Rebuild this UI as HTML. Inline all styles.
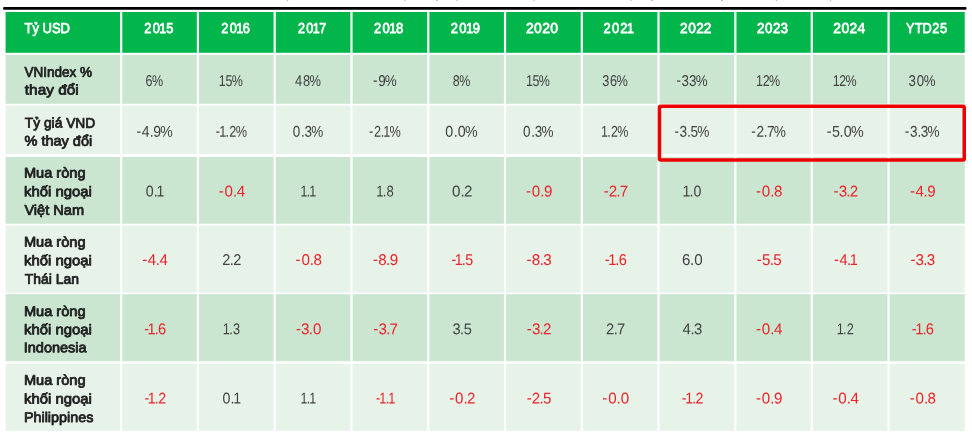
<!DOCTYPE html>
<html lang="vi">
<head>
<meta charset="utf-8">
<title>Bảng</title>
<style>
html,body{margin:0;padding:0;background:#fff;}
body{width:972px;height:435px;overflow:hidden;}
svg{display:block;}
text{font-family:"Liberation Sans",sans-serif;text-rendering:geometricPrecision;}
.h{fill:#fff;stroke:#fff;stroke-width:0.75px;stroke-linejoin:round;font-size:14.4px;}
.l{fill:#1f1f1f;stroke:#1f1f1f;stroke-width:0.8px;stroke-linejoin:round;font-size:14.0px;}
.d{fill:#424242;font-size:15.6px;}
.r{fill:#ec2227;font-size:15.6px;}
</style>
</head>
<body>
<svg width="972" height="435" viewBox="0 0 972 435">
<defs><filter id="soft" filterUnits="userSpaceOnUse" x="0" y="0" width="972" height="435" color-interpolation-filters="sRGB"><feGaussianBlur stdDeviation="0.28"/></filter></defs>
<g filter="url(#soft)">
<rect x="-5" y="-5" width="982" height="445" fill="#fff"/>
<rect x="3.1" y="7.1" width="963.4" height="2.6" rx="1" fill="#000"/>
<rect x="286.9" y="-0.5" width="1.2" height="1.4" fill="#b0b0b0"/>
<rect x="404.2" y="-0.5" width="1.2" height="1.4" fill="#b0b0b0"/>
<rect x="436.4" y="-0.5" width="1.2" height="1.4" fill="#8a8a8a"/>
<rect x="456.2" y="-0.5" width="1.2" height="1.4" fill="#b8b8b8"/>
<rect x="533.2" y="-0.5" width="1.2" height="1.4" fill="#b0b0b0"/>
<rect x="630.3" y="-0.5" width="1.2" height="1.4" fill="#b0b0b0"/>
<rect x="651.5" y="-0.5" width="1.2" height="1.4" fill="#8a8a8a"/>
<rect x="721.3" y="-0.5" width="1.2" height="1.4" fill="#8a8a8a"/>
<rect x="775.8" y="-0.5" width="1.2" height="1.4" fill="#b0b0b0"/>
<rect x="829.9" y="-0.5" width="1.2" height="1.4" fill="#b0b0b0"/>
<rect x="5.6" y="12.0" width="114.48" height="40.80" fill="#02b64c"/>
<rect x="122.28" y="12.0" width="74.55" height="40.80" fill="#02b64c"/>
<rect x="199.03" y="12.0" width="74.56" height="40.80" fill="#02b64c"/>
<rect x="275.79" y="12.0" width="74.58" height="40.80" fill="#02b64c"/>
<rect x="352.57" y="12.0" width="74.62" height="40.80" fill="#02b64c"/>
<rect x="429.39" y="12.0" width="74.56" height="40.80" fill="#02b64c"/>
<rect x="506.15" y="12.0" width="74.56" height="40.80" fill="#02b64c"/>
<rect x="582.91" y="12.0" width="74.50" height="40.80" fill="#02b64c"/>
<rect x="659.61" y="12.0" width="74.64" height="40.80" fill="#02b64c"/>
<rect x="736.45" y="12.0" width="74.21" height="40.80" fill="#02b64c"/>
<rect x="812.86" y="12.0" width="74.62" height="40.80" fill="#02b64c"/>
<rect x="889.68" y="12.0" width="75.02" height="40.80" fill="#02b64c"/>
<rect x="5.6" y="54.9" width="114.48" height="48.90" fill="#cae6d1"/>
<rect x="122.28" y="54.9" width="74.55" height="48.90" fill="#cae6d1"/>
<rect x="199.03" y="54.9" width="74.56" height="48.90" fill="#cae6d1"/>
<rect x="275.79" y="54.9" width="74.58" height="48.90" fill="#cae6d1"/>
<rect x="352.57" y="54.9" width="74.62" height="48.90" fill="#cae6d1"/>
<rect x="429.39" y="54.9" width="74.56" height="48.90" fill="#cae6d1"/>
<rect x="506.15" y="54.9" width="74.56" height="48.90" fill="#cae6d1"/>
<rect x="582.91" y="54.9" width="74.50" height="48.90" fill="#cae6d1"/>
<rect x="659.61" y="54.9" width="74.64" height="48.90" fill="#cae6d1"/>
<rect x="736.45" y="54.9" width="74.21" height="48.90" fill="#cae6d1"/>
<rect x="812.86" y="54.9" width="74.62" height="48.90" fill="#cae6d1"/>
<rect x="889.68" y="54.9" width="75.02" height="48.90" fill="#cae6d1"/>
<rect x="5.6" y="105.5" width="114.48" height="48.45" fill="#e7f2e9"/>
<rect x="122.28" y="105.5" width="74.55" height="48.45" fill="#e7f2e9"/>
<rect x="199.03" y="105.5" width="74.56" height="48.45" fill="#e7f2e9"/>
<rect x="275.79" y="105.5" width="74.58" height="48.45" fill="#e7f2e9"/>
<rect x="352.57" y="105.5" width="74.62" height="48.45" fill="#e7f2e9"/>
<rect x="429.39" y="105.5" width="74.56" height="48.45" fill="#e7f2e9"/>
<rect x="506.15" y="105.5" width="74.56" height="48.45" fill="#e7f2e9"/>
<rect x="582.91" y="105.5" width="74.50" height="48.45" fill="#e7f2e9"/>
<rect x="659.61" y="105.5" width="74.64" height="48.45" fill="#e7f2e9"/>
<rect x="736.45" y="105.5" width="74.21" height="48.45" fill="#e7f2e9"/>
<rect x="812.86" y="105.5" width="74.62" height="48.45" fill="#e7f2e9"/>
<rect x="889.68" y="105.5" width="75.02" height="48.45" fill="#e7f2e9"/>
<rect x="5.6" y="156.9" width="114.48" height="66.85" fill="#cae6d1"/>
<rect x="122.28" y="156.9" width="74.55" height="66.85" fill="#cae6d1"/>
<rect x="199.03" y="156.9" width="74.56" height="66.85" fill="#cae6d1"/>
<rect x="275.79" y="156.9" width="74.58" height="66.85" fill="#cae6d1"/>
<rect x="352.57" y="156.9" width="74.62" height="66.85" fill="#cae6d1"/>
<rect x="429.39" y="156.9" width="74.56" height="66.85" fill="#cae6d1"/>
<rect x="506.15" y="156.9" width="74.56" height="66.85" fill="#cae6d1"/>
<rect x="582.91" y="156.9" width="74.50" height="66.85" fill="#cae6d1"/>
<rect x="659.61" y="156.9" width="74.64" height="66.85" fill="#cae6d1"/>
<rect x="736.45" y="156.9" width="74.21" height="66.85" fill="#cae6d1"/>
<rect x="812.86" y="156.9" width="74.62" height="66.85" fill="#cae6d1"/>
<rect x="889.68" y="156.9" width="75.02" height="66.85" fill="#cae6d1"/>
<rect x="5.6" y="225.5" width="114.48" height="67.10" fill="#e7f2e9"/>
<rect x="122.28" y="225.5" width="74.55" height="67.10" fill="#e7f2e9"/>
<rect x="199.03" y="225.5" width="74.56" height="67.10" fill="#e7f2e9"/>
<rect x="275.79" y="225.5" width="74.58" height="67.10" fill="#e7f2e9"/>
<rect x="352.57" y="225.5" width="74.62" height="67.10" fill="#e7f2e9"/>
<rect x="429.39" y="225.5" width="74.56" height="67.10" fill="#e7f2e9"/>
<rect x="506.15" y="225.5" width="74.56" height="67.10" fill="#e7f2e9"/>
<rect x="582.91" y="225.5" width="74.50" height="67.10" fill="#e7f2e9"/>
<rect x="659.61" y="225.5" width="74.64" height="67.10" fill="#e7f2e9"/>
<rect x="736.45" y="225.5" width="74.21" height="67.10" fill="#e7f2e9"/>
<rect x="812.86" y="225.5" width="74.62" height="67.10" fill="#e7f2e9"/>
<rect x="889.68" y="225.5" width="75.02" height="67.10" fill="#e7f2e9"/>
<rect x="5.6" y="294.15" width="114.48" height="67.05" fill="#cae6d1"/>
<rect x="122.28" y="294.15" width="74.55" height="67.05" fill="#cae6d1"/>
<rect x="199.03" y="294.15" width="74.56" height="67.05" fill="#cae6d1"/>
<rect x="275.79" y="294.15" width="74.58" height="67.05" fill="#cae6d1"/>
<rect x="352.57" y="294.15" width="74.62" height="67.05" fill="#cae6d1"/>
<rect x="429.39" y="294.15" width="74.56" height="67.05" fill="#cae6d1"/>
<rect x="506.15" y="294.15" width="74.56" height="67.05" fill="#cae6d1"/>
<rect x="582.91" y="294.15" width="74.50" height="67.05" fill="#cae6d1"/>
<rect x="659.61" y="294.15" width="74.64" height="67.05" fill="#cae6d1"/>
<rect x="736.45" y="294.15" width="74.21" height="67.05" fill="#cae6d1"/>
<rect x="812.86" y="294.15" width="74.62" height="67.05" fill="#cae6d1"/>
<rect x="889.68" y="294.15" width="75.02" height="67.05" fill="#cae6d1"/>
<rect x="5.6" y="364.0" width="114.48" height="66.80" fill="#e7f2e9"/>
<rect x="122.28" y="364.0" width="74.55" height="66.80" fill="#e7f2e9"/>
<rect x="199.03" y="364.0" width="74.56" height="66.80" fill="#e7f2e9"/>
<rect x="275.79" y="364.0" width="74.58" height="66.80" fill="#e7f2e9"/>
<rect x="352.57" y="364.0" width="74.62" height="66.80" fill="#e7f2e9"/>
<rect x="429.39" y="364.0" width="74.56" height="66.80" fill="#e7f2e9"/>
<rect x="506.15" y="364.0" width="74.56" height="66.80" fill="#e7f2e9"/>
<rect x="582.91" y="364.0" width="74.50" height="66.80" fill="#e7f2e9"/>
<rect x="659.61" y="364.0" width="74.64" height="66.80" fill="#e7f2e9"/>
<rect x="736.45" y="364.0" width="74.21" height="66.80" fill="#e7f2e9"/>
<rect x="812.86" y="364.0" width="74.62" height="66.80" fill="#e7f2e9"/>
<rect x="889.68" y="364.0" width="75.02" height="66.80" fill="#e7f2e9"/>
<text class="h" x="24.48" y="33.05" textLength="45.56" lengthAdjust="spacingAndGlyphs" transform="rotate(0.05 24.5 33.0)">Tỷ USD</text>
<text class="h" transform="translate(144.40 33.05) rotate(0.05) scale(0.892 1)" x="-0.20 9.41 16.70 24.38" y="0">2015</text>
<text class="h" transform="translate(221.40 33.05) rotate(0.05) scale(0.888 1)" x="-0.16 9.35 16.65 24.18" y="0">2016</text>
<text class="h" transform="translate(298.20 33.05) rotate(0.05) scale(0.872 1)" x="-0.21 9.33 16.64 24.17" y="0">2017</text>
<text class="h" transform="translate(374.20 33.05) rotate(0.05) scale(0.905 1)" x="-0.15 9.30 16.58 24.19" y="0">2018</text>
<text class="h" transform="translate(450.90 33.05) rotate(0.05) scale(0.902 1)" x="-0.16 9.33 16.61 24.18" y="0">2019</text>
<text class="h" transform="translate(526.20 33.05) rotate(0.05) scale(0.970 1)" x="-0.27 8.16 16.46 24.89" y="0">2020</text>
<text class="h" transform="translate(604.40 33.05) rotate(0.05) scale(0.896 1)" x="-0.90 8.59 17.79 24.93" y="0">2021</text>
<text class="h" transform="translate(680.50 33.05) rotate(0.05) scale(0.952 1)" x="-0.42 8.09 16.48 24.33" y="0">2022</text>
<text class="h" transform="translate(757.50 33.05) rotate(0.05) scale(0.933 1)" x="-0.46 8.17 16.67 24.63" y="0">2023</text>
<text class="h" transform="translate(833.60 33.05) rotate(0.05) scale(0.965 1)" x="-0.43 8.07 16.44 24.68" y="0">2024</text>
<text class="h" transform="translate(905.90 33.05) rotate(0.05) scale(0.887 1)" x="-0.01 9.92 18.77 29.83 38.53" y="0">YTD25</text>
<text class="l" x="24.43" y="76.80" textLength="67.57" lengthAdjust="spacingAndGlyphs" transform="rotate(0.05 24.4 76.8)">VNIndex %</text>
<text class="l" x="24.87" y="94.50" textLength="53.77" lengthAdjust="spacingAndGlyphs" transform="rotate(0.05 24.9 94.5)">thay đổi</text>
<text class="d" transform="translate(146.21 85.90) rotate(0.05) scale(0.800 1)" x="-0.90 7.30" y="0">6%</text>
<text class="d" transform="translate(220.41 85.90) rotate(0.05) scale(0.800 1)" x="-2.06 6.23 14.18" y="0">15%</text>
<text class="d" transform="translate(295.43 85.90) rotate(0.05) scale(0.826 1)" x="-0.68 9.13 17.01" y="0">48%</text>
<text class="d" transform="translate(373.68 85.90) rotate(0.05) scale(0.863 1)" x="-0.77 5.16 12.95" y="-0.55 0.00 0.00">-9%</text>
<text class="d" transform="translate(453.37 85.90) rotate(0.05) scale(0.800 1)" x="-0.86 7.24" y="0">8%</text>
<text class="d" transform="translate(527.53 85.90) rotate(0.05) scale(0.800 1)" x="-2.06 6.23 14.18" y="0">15%</text>
<text class="d" transform="translate(602.96 85.90) rotate(0.05) scale(0.815 1)" x="-0.97 8.62 16.62" y="0">36%</text>
<text class="d" transform="translate(677.08 85.90) rotate(0.05) scale(0.855 1)" x="-0.78 5.21 13.88 21.72" y="-0.55 0.00 0.00 0.00">-33%</text>
<text class="d" transform="translate(757.75 85.90) rotate(0.05) scale(0.800 1)" x="-2.07 6.14 13.93" y="0">12%</text>
<text class="d" transform="translate(834.37 85.90) rotate(0.05) scale(0.800 1)" x="-2.07 6.14 13.93" y="0">12%</text>
<text class="d" transform="translate(909.44 85.90) rotate(0.05) scale(0.847 1)" x="-1.15 8.78 16.98" y="0">30%</text>
<text class="l" x="24.79" y="127.60" textLength="70.46" lengthAdjust="spacingAndGlyphs" transform="rotate(0.05 24.8 127.6)">Tỷ giá VND</text>
<text class="l" x="24.59" y="145.60" textLength="67.58" lengthAdjust="spacingAndGlyphs" transform="rotate(0.05 24.6 145.6)">% thay đổi</text>
<text class="d" transform="translate(137.46 136.70) rotate(0.05) scale(0.900 1)" x="-1.08 4.90 13.63 17.50 25.28" y="-0.55 0.00 0.00 0.00 0.00">-4.9%</text>
<text class="d" transform="translate(216.11 136.70) rotate(0.05) scale(0.813 1)" x="-0.39 3.85 11.68 16.24 24.03" y="-0.55 0.00 0.00 0.00 0.00">-1.2%</text>
<text class="d" transform="translate(293.58 136.70) rotate(0.05) scale(0.863 1)" x="-1.00 8.52 12.52 20.36" y="0">0.3%</text>
<text class="d" transform="translate(369.68 136.70) rotate(0.05) scale(0.813 1)" x="-0.87 5.38 13.66 16.73 24.52" y="-0.55 0.00 0.00 0.00 0.00">-2.1%</text>
<text class="d" transform="translate(446.42 136.70) rotate(0.05) scale(0.912 1)" x="-1.19 7.93 12.50 20.40" y="0">0.0%</text>
<text class="d" transform="translate(523.93 136.70) rotate(0.05) scale(0.863 1)" x="-1.00 8.52 12.52 20.36" y="0">0.3%</text>
<text class="d" transform="translate(602.61 136.70) rotate(0.05) scale(0.800 1)" x="-2.09 5.76 10.54 18.33" y="0">1.2%</text>
<text class="d" transform="translate(675.28 136.70) rotate(0.05) scale(0.872 1)" x="-0.91 4.98 13.52 17.47 25.33" y="-0.55 0.00 0.00 0.00 0.00">-3.5%</text>
<text class="d" transform="translate(752.15 136.70) rotate(0.05) scale(0.874 1)" x="-0.95 4.87 13.33 16.94 24.70" y="-0.55 0.00 0.00 0.00 0.00">-2.7%</text>
<text class="d" transform="translate(827.77 136.70) rotate(0.05) scale(0.915 1)" x="-1.08 4.56 12.88 17.41 25.31" y="-0.55 0.00 0.00 0.00 0.00">-5.0%</text>
<text class="d" transform="translate(905.59 136.70) rotate(0.05) scale(0.869 1)" x="-0.90 5.01 13.57 17.50 25.34" y="-0.55 0.00 0.00 0.00 0.00">-3.3%</text>
<text class="l" x="23.90" y="177.40" textLength="61.65" lengthAdjust="spacingAndGlyphs" transform="rotate(0.05 23.9 177.4)">Mua ròng</text>
<text class="l" x="24.10" y="196.30" textLength="67.79" lengthAdjust="spacingAndGlyphs" transform="rotate(0.05 24.1 196.3)">khối ngoại</text>
<text class="l" x="24.43" y="214.70" textLength="59.61" lengthAdjust="spacingAndGlyphs" transform="rotate(0.05 24.4 214.7)">Việt Nam</text>
<text class="d" transform="translate(146.61 196.60) rotate(0.05) scale(0.907 1)" x="-0.87 7.95 10.88" y="0">0.1</text>
<text class="r" transform="translate(218.86 196.60) rotate(0.05) scale(0.970 1)" x="-0.23 5.81 14.52 18.43" y="-0.55 0.00 0.00 0.00">-0.4</text>
<text class="d" transform="translate(302.03 196.60) rotate(0.05) scale(0.800 1)" x="-2.02 5.83 8.92" y="0">1.1</text>
<text class="d" transform="translate(377.33 196.60) rotate(0.05) scale(0.838 1)" x="-1.40 6.39 10.94" y="0">1.8</text>
<text class="d" transform="translate(452.42 196.60) rotate(0.05) scale(0.970 1)" x="-0.46 8.25 11.85" y="0">0.2</text>
<text class="r" transform="translate(526.08 196.60) rotate(0.05) scale(0.970 1)" x="-0.20 5.85 14.55 18.37" y="-0.55 0.00 0.00 0.00">-0.9</text>
<text class="r" transform="translate(603.96 196.60) rotate(0.05) scale(0.970 1)" x="-0.30 4.96 12.80 16.23" y="-0.55 0.00 0.00 0.00">-2.7</text>
<text class="d" transform="translate(683.78 196.60) rotate(0.05) scale(0.907 1)" x="-1.44 6.25 10.81" y="0">1.0</text>
<text class="r" transform="translate(756.25 196.60) rotate(0.05) scale(0.970 1)" x="-0.26 5.79 14.49 18.25" y="-0.55 0.00 0.00 0.00">-0.8</text>
<text class="r" transform="translate(833.82 196.60) rotate(0.05) scale(0.970 1)" x="-0.33 4.98 12.87 16.47" y="-0.55 0.00 0.00 0.00">-3.2</text>
<text class="r" transform="translate(910.29 196.60) rotate(0.05) scale(0.970 1)" x="-0.20 5.37 13.62 17.44" y="-0.55 0.00 0.00 0.00">-4.9</text>
<text class="l" x="23.90" y="246.60" textLength="61.65" lengthAdjust="spacingAndGlyphs" transform="rotate(0.05 23.9 246.6)">Mua ròng</text>
<text class="l" x="24.10" y="265.20" textLength="67.79" lengthAdjust="spacingAndGlyphs" transform="rotate(0.05 24.1 265.2)">khối ngoại</text>
<text class="l" x="24.79" y="283.80" textLength="54.14" lengthAdjust="spacingAndGlyphs" transform="rotate(0.05 24.8 283.8)">Thái Lan</text>
<text class="r" transform="translate(142.56 265.10) rotate(0.05) scale(0.970 1)" x="-0.23 5.34 13.59 17.50" y="-0.55 0.00 0.00 0.00">-4.4</text>
<text class="d" transform="translate(222.96 265.10) rotate(0.05) scale(0.935 1)" x="-0.86 7.19 11.01" y="0">2.2</text>
<text class="r" transform="translate(295.78 265.10) rotate(0.05) scale(0.970 1)" x="-0.26 5.79 14.49 18.25" y="-0.55 0.00 0.00 0.00">-0.8</text>
<text class="r" transform="translate(373.13 265.10) rotate(0.05) scale(0.970 1)" x="-0.20 5.21 13.31 17.13" y="-0.55 0.00 0.00 0.00">-8.9</text>
<text class="r" transform="translate(451.57 265.10) rotate(0.05) scale(0.914 1)" x="-0.12 3.57 11.24 14.94" y="-0.55 0.00 0.00 0.00">-1.5</text>
<text class="r" transform="translate(526.88 265.10) rotate(0.05) scale(0.970 1)" x="-0.35 5.07 13.16 16.82" y="-0.55 0.00 0.00 0.00">-8.3</text>
<text class="r" transform="translate(604.91 265.10) rotate(0.05) scale(0.938 1)" x="-0.15 3.52 11.17 14.71" y="-0.55 0.00 0.00 0.00">-1.6</text>
<text class="d" transform="translate(682.43 265.10) rotate(0.05) scale(0.970 1)" x="-0.50 7.69 12.08" y="0">6.0</text>
<text class="r" transform="translate(757.05 265.10) rotate(0.05) scale(0.970 1)" x="-0.32 5.01 12.98 16.66" y="-0.55 0.00 0.00 0.00">-5.5</text>
<text class="r" transform="translate(834.82 265.10) rotate(0.05) scale(0.933 1)" x="-0.85 4.93 13.05 15.94" y="-0.55 0.00 0.00 0.00">-4.1</text>
<text class="r" transform="translate(910.79 265.10) rotate(0.05) scale(0.970 1)" x="-0.35 4.96 12.86 16.51" y="-0.55 0.00 0.00 0.00">-3.3</text>
<text class="l" x="23.90" y="316.00" textLength="61.65" lengthAdjust="spacingAndGlyphs" transform="rotate(0.05 23.9 316.0)">Mua ròng</text>
<text class="l" x="24.10" y="334.30" textLength="67.79" lengthAdjust="spacingAndGlyphs" transform="rotate(0.05 24.1 334.3)">khối ngoại</text>
<text class="l" x="23.76" y="352.30" textLength="62.87" lengthAdjust="spacingAndGlyphs" transform="rotate(0.05 23.8 352.3)">Indonesia</text>
<text class="r" transform="translate(144.31 334.25) rotate(0.05) scale(0.938 1)" x="-0.15 3.52 11.17 14.71" y="-0.55 0.00 0.00 0.00">-1.6</text>
<text class="d" transform="translate(223.91 334.25) rotate(0.05) scale(0.815 1)" x="-1.39 6.43 11.10" y="0">1.3</text>
<text class="r" transform="translate(295.93 334.25) rotate(0.05) scale(0.970 1)" x="0.02 5.33 13.22 17.61" y="-0.55 0.00 0.00 0.00">-3.0</text>
<text class="r" transform="translate(373.63 334.25) rotate(0.05) scale(0.970 1)" x="-0.30 5.01 12.90 16.34" y="-0.55 0.00 0.00 0.00">-3.7</text>
<text class="d" transform="translate(453.07 334.25) rotate(0.05) scale(0.935 1)" x="-0.68 7.42 11.32" y="0">3.5</text>
<text class="r" transform="translate(527.08 334.25) rotate(0.05) scale(0.970 1)" x="-0.33 4.98 12.87 16.47" y="-0.55 0.00 0.00 0.00">-3.2</text>
<text class="d" transform="translate(606.91 334.25) rotate(0.05) scale(0.942 1)" x="-0.86 7.15 10.75" y="0">2.7</text>
<text class="d" transform="translate(682.88 334.25) rotate(0.05) scale(0.957 1)" x="-0.44 7.90 11.63" y="0">4.3</text>
<text class="r" transform="translate(756.10 334.25) rotate(0.05) scale(0.970 1)" x="-0.23 5.81 14.52 18.43" y="-0.55 0.00 0.00 0.00">-0.4</text>
<text class="d" transform="translate(837.82 334.25) rotate(0.05) scale(0.816 1)" x="-1.39 6.43 11.03" y="0">1.2</text>
<text class="r" transform="translate(911.94 334.25) rotate(0.05) scale(0.938 1)" x="-0.15 3.52 11.17 14.71" y="-0.55 0.00 0.00 0.00">-1.6</text>
<text class="l" x="23.90" y="384.80" textLength="61.65" lengthAdjust="spacingAndGlyphs" transform="rotate(0.05 23.9 384.8)">Mua ròng</text>
<text class="l" x="24.10" y="403.40" textLength="67.79" lengthAdjust="spacingAndGlyphs" transform="rotate(0.05 24.1 403.4)">khối ngoại</text>
<text class="l" x="23.91" y="421.90" textLength="69.47" lengthAdjust="spacingAndGlyphs" transform="rotate(0.05 23.9 421.9)">Philippines</text>
<text class="r" transform="translate(144.56 403.55) rotate(0.05) scale(0.911 1)" x="-0.11 3.57 11.25 14.90" y="-0.55 0.00 0.00 0.00">-1.2</text>
<text class="d" transform="translate(223.36 403.55) rotate(0.05) scale(0.907 1)" x="-0.87 7.95 10.88" y="0">0.1</text>
<text class="d" transform="translate(302.03 403.55) rotate(0.05) scale(0.800 1)" x="-2.02 5.83 8.92" y="0">1.1</text>
<text class="r" transform="translate(376.18 403.55) rotate(0.05) scale(0.813 1)" x="-0.25 3.87 11.69 14.76" y="-0.55 0.00 0.00 0.00">-1.1</text>
<text class="r" transform="translate(449.57 403.55) rotate(0.05) scale(0.970 1)" x="-0.33 5.71 14.42 18.02" y="-0.55 0.00 0.00 0.00">-0.2</text>
<text class="r" transform="translate(527.03 403.55) rotate(0.05) scale(0.970 1)" x="-0.32 4.94 12.78 16.46" y="-0.55 0.00 0.00 0.00">-2.5</text>
<text class="r" transform="translate(602.26 403.55) rotate(0.05) scale(0.970 1)" x="0.02 6.06 14.77 19.16" y="-0.55 0.00 0.00 0.00">-0.0</text>
<text class="r" transform="translate(681.93 403.55) rotate(0.05) scale(0.911 1)" x="-0.11 3.57 11.25 14.90" y="-0.55 0.00 0.00 0.00">-1.2</text>
<text class="r" transform="translate(756.20 403.55) rotate(0.05) scale(0.970 1)" x="-0.20 5.85 14.55 18.37" y="-0.55 0.00 0.00 0.00">-0.9</text>
<text class="r" transform="translate(832.72 403.55) rotate(0.05) scale(0.970 1)" x="-0.23 5.81 14.52 18.43" y="-0.55 0.00 0.00 0.00">-0.4</text>
<text class="r" transform="translate(909.89 403.55) rotate(0.05) scale(0.970 1)" x="-0.26 5.79 14.49 18.25" y="-0.55 0.00 0.00 0.00">-0.8</text>
<rect x="659.45" y="106.3" width="304.8" height="53.8" rx="1.5" fill="none" stroke="#ee0000" stroke-width="3.5"/>
</g>
</svg>
</body>
</html>
